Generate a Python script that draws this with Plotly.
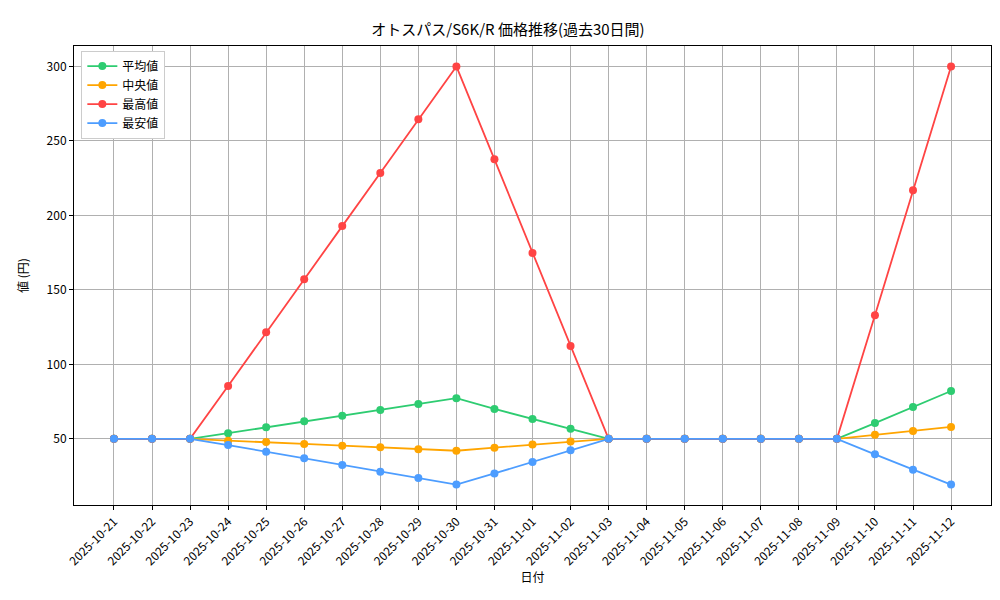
import plotly.graph_objects as go

dates = ["2025-10-21", "2025-10-22", "2025-10-23", "2025-10-24", "2025-10-25", "2025-10-26",
         "2025-10-27", "2025-10-28", "2025-10-29", "2025-10-30", "2025-10-31", "2025-11-01",
         "2025-11-02", "2025-11-03", "2025-11-04", "2025-11-05", "2025-11-06", "2025-11-07",
         "2025-11-08", "2025-11-09", "2025-11-10", "2025-11-11", "2025-11-12"]

mean_vals = [50, 50, 50, 53.8, 57.8, 61.8, 65.5, 69.4, 73.4, 77.3, 70.1, 63.4, 56.8,
             50, 50, 50, 50, 50, 50, 50, 60.6, 71.4, 82.1]
median_vals = [50, 50, 50, 48.8, 47.9, 46.6, 45.4, 44.4, 43.1, 42.0, 44.1, 46.2, 48.3,
               50, 50, 50, 50, 50, 50, 50, 52.7, 55.3, 58.0]
max_vals = [50, 50, 50, 85.5, 121.5, 157.2, 192.8, 228.5, 264.5, 300, 237.6, 174.8, 112.3,
            50, 50, 50, 50, 50, 50, 50, 133.0, 216.8, 300]
min_vals = [50, 50, 50, 45.8, 41.3, 36.9, 32.5, 28.0, 23.8, 19.3, 26.8, 34.5, 42.4,
            50, 50, 50, 50, 50, 50, 50, 39.6, 29.3, 19.3]

series = [
    ("平均値", mean_vals, "#2ecc71"),
    ("中央値", median_vals, "#ffa500"),
    ("最高値", max_vals, "#ff4444"),
    ("最安値", min_vals, "#4d9dff"),
]

fig = go.Figure()
for name, vals, color in series:
    fig.add_trace(go.Scatter(
        x=dates, y=vals, name=name, mode="lines+markers",
        line=dict(color=color, width=1.8),
        marker=dict(color=color, size=8),
    ))

font = "Noto Sans CJK JP"
fig.update_layout(
    width=1000, height=600,
    margin=dict(l=66, r=17, t=38, b=103, autoexpand=False),
    plot_bgcolor="white", paper_bgcolor="white",
    font=dict(family=font, size=12, color="black"),
    title=dict(text="オトスパス/S6K/R 価格推移(過去30日間)", x=0.5, xanchor="center",
               y=0.963, yanchor="middle", font=dict(size=15)),
    legend=dict(x=0.008, y=0.99, xanchor="left", yanchor="top",
                bordercolor="#cccccc", borderwidth=1, bgcolor="white",
                font=dict(size=12)),
)
fig.update_xaxes(
    type="category",
    title=dict(text="日付", font=dict(size=12), standoff=6),
    tickangle=-45, range=[-1.05, len(dates) - 1 + 1.05],
    showgrid=True, gridcolor="#b0b0b0", gridwidth=1,
    showline=True, linecolor="black", mirror=True,
    ticks="outside", ticklen=4, tickcolor="black",
)
fig.update_yaxes(
    title=dict(text="値 (円)", font=dict(size=12)),
    range=[5.6, 313.7], tickvals=[50, 100, 150, 200, 250, 300],
    showgrid=True, gridcolor="#b0b0b0", gridwidth=1,
    showline=True, linecolor="black", mirror=True,
    ticks="outside", ticklen=4, tickcolor="black", zeroline=False,
)

fig.write_html("out.html")
